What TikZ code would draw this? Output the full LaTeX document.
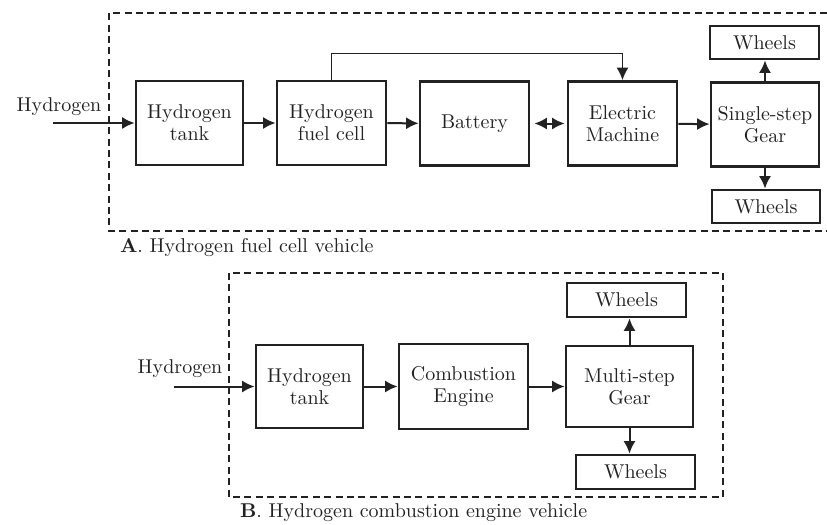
\documentclass[tikz,border=0pt]{standalone}
\usepackage{tikz}
\usetikzlibrary{calc, positioning, arrows.meta}
\definecolor{ink}{HTML}{222222}

\begin{document}
\begin{tikzpicture}[x=0.5pt, y=-0.5pt, >={Latex[length=6.2pt,width=6pt]}, color=ink,
		blk/.style={draw, line width=1.4pt, minimum width=53.5pt, minimum height=42pt, align=center, inner sep=1pt,
			execute at begin node={\setlength{\baselineskip}{11pt}}},
		whl/.style={blk, minimum width=54.5pt, minimum height=16.5pt},
		flow/.style={->, line width=1pt},
		frame/.style={line width=0.8pt, dash pattern=on 3.5pt off 2.2pt}]
		\useasboundingbox (0,0) rectangle (827,525);

		% A: fuel cell vehicle
		\node (inA) at (59,107) {Hydrogen};
		\coordinate (srcA) at (53,123);
		\node[blk] (tankA) at (189.5,123) {Hydrogen\\tank};
		\node[blk, minimum width=54.5pt] (fc) at (331.5,123) {Hydrogen\\fuel cell};
		\node[blk, minimum width=54.5pt] (bat) at (474.5,123.5) {Battery};
		\node[blk, minimum width=54.5pt] (em) at (622.5,123.5) {Electric\\Machine};
		\node[blk, minimum width=54pt] (gearA) at (765,124.5) {Single-step\\Gear};
		\node[whl] (whA1) at (764.5,42.5) {Wheels};
		\node[whl, minimum width=54pt] (whA2) at (766,206.5) {Wheels};

		\draw[flow] (srcA) -- (tankA);
		\draw[flow] (tankA) -- (fc);
		\draw[flow] (fc) -- (bat);
		\draw[<->, line width=1pt, shorten <=2pt, shorten >=1pt] (bat) -- (em);
		\draw[flow] (em) -- (gearA);
		\draw[flow, line width=0.8pt] (fc.north) -- ++(0,-26) -| (em.north);
		\draw[flow] (gearA.north) -- (gearA.north |- whA1.south);
		\draw[flow] (gearA.south) -- (gearA.south |- whA2.north);

		\draw[frame] (827,13) -- (109,13) -- (109,231) -- (827,231);
		\node[anchor=west] (capA) at (113,248) {\textbf{A}. Hydrogen fuel cell vehicle};

		% B: combustion engine vehicle
		\node (inB) at (180,369) {Hydrogen};
		\coordinate (srcB) at (174,386.5);
		\node[blk, minimum height=41.5pt] (tankB) at (309.5,386.5) {Hydrogen\\tank};
		\node[blk, minimum width=64.5pt, minimum height=42.5pt] (ce) at (463.5,386.5) {Combustion\\Engine};
		\node[blk, minimum width=63.5pt, minimum height=40.5pt] (gearB) at (629.5,386.5) {Multi-step\\Gear};
		\node[whl, minimum width=59.5pt, minimum height=17pt] (whB1) at (626.5,300) {Wheels};
		\node[whl, minimum width=59.5pt, minimum height=17pt] (whB2) at (635.5,472) {Wheels};

		\draw[flow] (srcB) -- (tankB);
		\draw[flow] (tankB) -- (ce);
		\draw[flow] (ce) -- (gearB);
		\draw[flow] (gearB.north) -- (gearB.north |- whB1.south);
		\draw[flow] (gearB.south) -- (gearB.south |- whB2.north);

		\draw[frame] (229,273) rectangle (723,497);
		\node[anchor=west] (capB) at (233,513) {\textbf{B}. Hydrogen combustion engine vehicle};

	\end{tikzpicture}
\end{document}
